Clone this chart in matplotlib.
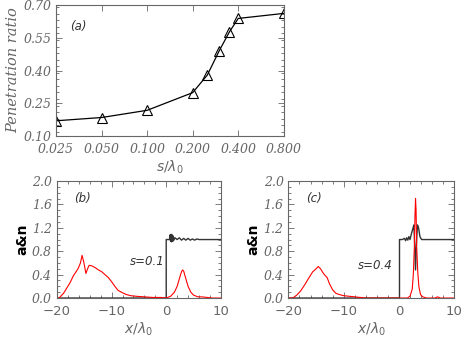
import numpy as np
import matplotlib
matplotlib.use("Agg")
import matplotlib.pyplot as plt
from matplotlib.ticker import FixedLocator, MultipleLocator, NullLocator

# panel (a): penetration ratio vs s/lambda0
s_vals = [0.025, 0.05, 0.1, 0.2, 0.25, 0.3, 0.35, 0.4, 0.8]
ratio = [0.17, 0.185, 0.218, 0.299, 0.38, 0.492, 0.578, 0.639, 0.662]
s_ticks = [0.025, 0.05, 0.1, 0.2, 0.4, 0.8]
s_ticklabels = ['0.025', '0.050', '0.100', '0.200', '0.400', '0.800']

# panel (b): s = 0.1
xb_red = [-20, -19.6, -18.8, -18.2, -17.5, -17.0, -16.5, -16.1, -15.7, -15.4,
          -15.1, -14.7, -14.4, -14.1, -13.6, -13.0, -12.4, -11.8, -11.2, -10.6,
          -10.0, -9.4, -8.8, -8.0, -7.3, -6.5, -5.5, -4.0, -2.5, -1.0, 0.0, 0.8,
          1.5, 2.0, 2.5, 2.8, 3.0, 3.2, 3.5, 4.0, 4.5, 5.0, 5.8, 6.5, 7.5, 8.5, 10]
yb_red = [0, 0.0, 0.08, 0.17, 0.28, 0.38, 0.45, 0.51, 0.60, 0.73,
          0.62, 0.42, 0.50, 0.56, 0.55, 0.52, 0.48, 0.45, 0.40, 0.35,
          0.28, 0.20, 0.13, 0.09, 0.06, 0.04, 0.03, 0.02, 0.01, 0.01, 0.0, 0.03,
          0.10, 0.20, 0.36, 0.45, 0.48, 0.46, 0.36, 0.20, 0.10, 0.05, 0.02, 0.02, 0.01, 0.0, 0.0]
xb_blk = [-20, 0, 0, 0.6, 0.7, 0.8, 0.9, 1.0, 1.1, 1.2, 1.3, 1.4, 1.6, 2.0, 2.4, 2.8,
          3.2, 3.6, 4.0, 4.4, 4.8, 5.2, 5.6, 6.0, 10]
yb_blk = [0, 0, 1.0, 1.0, 1.08, 0.97, 1.09, 0.96, 1.08, 0.97, 1.06, 0.99, 1.03, 1.0, 1.03,
          0.99, 1.02, 0.99, 1.02, 0.99, 1.01, 0.99, 1.01, 1.0, 1.0]

# panel (c): s = 0.4
xc_red = [-20, -19.2, -18.5, -17.8, -17.1, -16.4, -15.6, -15.0, -14.6, -14.2,
          -13.8, -13.5, -13.0, -12.6, -12.0, -11.4, -10.8, -10.0, -9.0, -8.0,
          -7.0, -6.0, 0, 1.5, 2.0, 2.4, 2.6, 2.8, 2.9, 3.0, 3.1, 3.2, 3.4, 3.6,
          3.9, 4.3, 5, 6.5, 7.0, 7.5, 10]
yc_red = [0, 0, 0.05, 0.12, 0.22, 0.33, 0.45, 0.50, 0.54, 0.50,
          0.44, 0.40, 0.35, 0.25, 0.14, 0.08, 0.06, 0.04, 0.03, 0.02,
          0.01, 0.0, 0.0, 0.0, 0.03, 0.15, 0.40, 0.9, 1.4, 1.70, 1.5, 0.9, 0.45, 0.2,
          0.06, 0.02, 0.0, 0.0, 0.02, 0.0, 0.0]
xc_blk = [-20, 0.1, 0.1, 0.6, 1.0, 1.2, 1.4, 1.6, 1.8, 2.0, 2.2, 2.5, 2.7, 2.85,
          3.0, 3.15, 3.35, 3.55, 3.8, 4.1, 10]
yc_blk = [0, 0, 1.0, 1.0, 1.02, 0.98, 1.03, 0.99, 1.05, 1.0, 1.08, 1.18, 1.25, 0.9,
          0.48, 0.9, 1.25, 1.2, 1.05, 1.0, 1.0]

gray = '#666666'
tfont = dict(family='DejaVu Serif', style='italic', color=gray, size=9)

fig = plt.figure(figsize=(4.63, 3.41), dpi=100)

def style(ax):
    for sp in ax.spines.values():
        sp.set_color(gray)
        sp.set_linewidth(0.8)
    ax.tick_params(which='both', direction='in', top=True, right=True, colors=gray,
                   width=0.6)
    ax.tick_params(which='major', length=4)
    ax.tick_params(which='minor', length=2)

# (a)
ax = fig.add_axes([0.121, 0.601, 0.492, 0.384])
ax.set_xscale('log', base=2)
ax.plot(s_vals, ratio, color='black', lw=0.9, marker='^', ms=6.5, mfc='none',
        mec='black', mew=0.8)
ax.set_xlim(0.025, 0.8)
ax.set_ylim(0.10, 0.70)
ax.xaxis.set_major_locator(FixedLocator(s_ticks))
ax.xaxis.set_minor_locator(NullLocator())
ax.set_xticklabels(s_ticklabels, **tfont)
ax.set_yticks([0.10, 0.25, 0.40, 0.55, 0.70])
ax.set_yticklabels(['0.10', '0.25', '0.40', '0.55', '0.70'], **tfont)
ax.yaxis.set_minor_locator(MultipleLocator(0.03))
style(ax)
ax.tick_params(axis='x', pad=5)
ax.set_ylabel('Penetration ratio', family='DejaVu Serif', style='italic',
              color=gray, size=10.5, labelpad=2)
ax.set_xlabel(r'$s/\lambda_0$', color=gray, size=10, labelpad=2)
ax.text(0.035, 0.60, '(a)', family='DejaVu Sans', style='italic', size=8.5,
        color='#333333', ha='center', va='center')

# (b) and (c)
def bottom(rect, xr, yr, xk, yk, label, slabel, sx, sy):
    ax = fig.add_axes(rect)
    ax.plot(xk, yk, color='#333333', lw=1.0)
    ax.plot(xr, yr, color='red', lw=0.8)
    ax.set_xlim(-20, 10)
    ax.set_ylim(0, 2.0)
    ax.set_xticks([-20, -10, 0, 10])
    ax.set_xticklabels(['\u221220', '\u221210', '0', '10'], family='DejaVu Sans',
                       color=gray, size=9.5)
    ax.xaxis.set_minor_locator(MultipleLocator(2))
    ax.set_yticks([0, 0.4, 0.8, 1.2, 1.6, 2.0])
    ax.set_yticklabels(['0.0', '0.4', '0.8', '1.2', '1.6', '2.0'], **tfont)
    ax.yaxis.set_minor_locator(MultipleLocator(0.1))
    style(ax)
    ax.tick_params(axis='x', pad=5)
    ax.set_ylabel('a&n', family='DejaVu Sans', weight='bold', size=10, labelpad=2)
    ax.set_xlabel(r'$x/\lambda_0$', color=gray, size=10, labelpad=2)
    ax.text(-15.3, 1.7, label, family='DejaVu Sans', style='italic', size=8.5,
            color='#333333', ha='center', va='center')
    ax.text(sx, sy, slabel, family='DejaVu Sans', style='italic', size=8.5,
            color='#333333', ha='right', va='center')

bottom([0.123, 0.126, 0.354, 0.343], xb_red, yb_red, xb_blk, yb_blk, '(b)', 's=0.1', -0.3, 0.62)
bottom([0.623, 0.126, 0.358, 0.343], xc_red, yc_red, xc_blk, yc_blk, '(c)', 's=0.4', -1.2, 0.56)

fig.savefig('out.png', dpi=100)
